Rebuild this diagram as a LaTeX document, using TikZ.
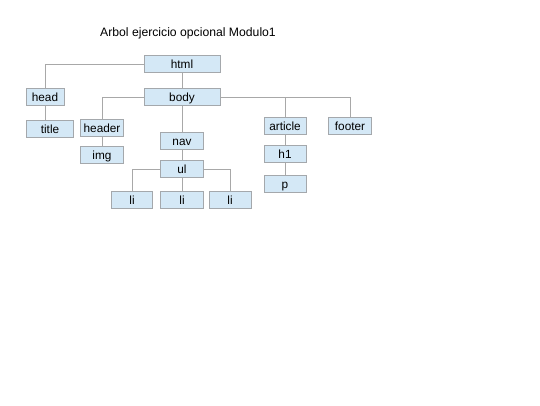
\documentclass[tikz,border=0pt]{standalone}
\usepackage{fontspec}
\setmainfont{Liberation Sans}
\definecolor{cajafondo}{HTML}{D4E8F6}
\definecolor{cajaborde}{HTML}{A4A8AC}
\definecolor{rama}{HTML}{A8A8A8}
\tikzset{
  etiqueta/.style={draw=cajaborde, fill=cajafondo, line width=0.8pt, font=\fontsize{11.8}{14}\selectfont,
    minimum height=16.5pt, inner sep=0pt, text height=8pt, text depth=0pt},
  rama/.style={draw=rama, line width=0.8pt}
}
\begin{document}
\begin{tikzpicture}[x=1pt,y=-1pt]
  \useasboundingbox (0,0) rectangle (540,405);
  \node[font=\fontsize{12.2}{14}\selectfont] (titulo) at (188,33) {Arbol ejercicio opcional Modulo1};

  \node[etiqueta, minimum width=76pt] (html) at (182,64) {html};
  \node[etiqueta, minimum width=38pt] (head) at (45,97) {head};
  \node[etiqueta, minimum width=76pt] (body) at (182,97) {body};
  \node[etiqueta, minimum width=47pt] (title) at (50,129) {title};
  \node[etiqueta, minimum width=43pt] (header) at (102,128) {header};
  \node[etiqueta, minimum width=43pt] (img) at (102,155) {img};
  \node[etiqueta, minimum width=43pt] (nav) at (182,141) {nav};
  \node[etiqueta, minimum width=43pt] (ul) at (182,169) {ul};
  \node[etiqueta, minimum width=41pt] (li1) at (132,200) {li};
  \node[etiqueta, minimum width=43pt] (li2) at (182,200) {li};
  \node[etiqueta, minimum width=42pt] (li3) at (230,200) {li};
  \node[etiqueta, minimum width=42pt] (article) at (285,126) {article};
  \node[etiqueta, minimum width=42pt] (h1) at (285,154) {h1};
  \node[etiqueta, minimum width=42pt] (p) at (285,184) {p};
  \node[etiqueta, minimum width=43pt] (footer) at (350,126) {footer};

  % ramas
  \draw[rama] (html.west) -| (head.north);
  \draw[rama] (html) -- (body);
  \draw[rama] (head.south) -- (head.south |- title.north);
  \draw[rama] (body.west) -| (header.north);
  \draw[rama] (header) -- (img);
  \draw[rama] (body) -- (nav);
  \draw[rama] (nav) -- (ul);
  \draw[rama] (ul.west) -| (li1.north);
  \draw[rama] (ul) -- (li2);
  \draw[rama] (ul.east) -| (li3.north);
  \draw[rama] (body.east) -| (footer.north);
  \draw[rama] (article.north |- body.east) -- (article.north);
  \draw[rama] (article) -- (h1);
  \draw[rama] (h1) -- (p);
\end{tikzpicture}
\end{document}
